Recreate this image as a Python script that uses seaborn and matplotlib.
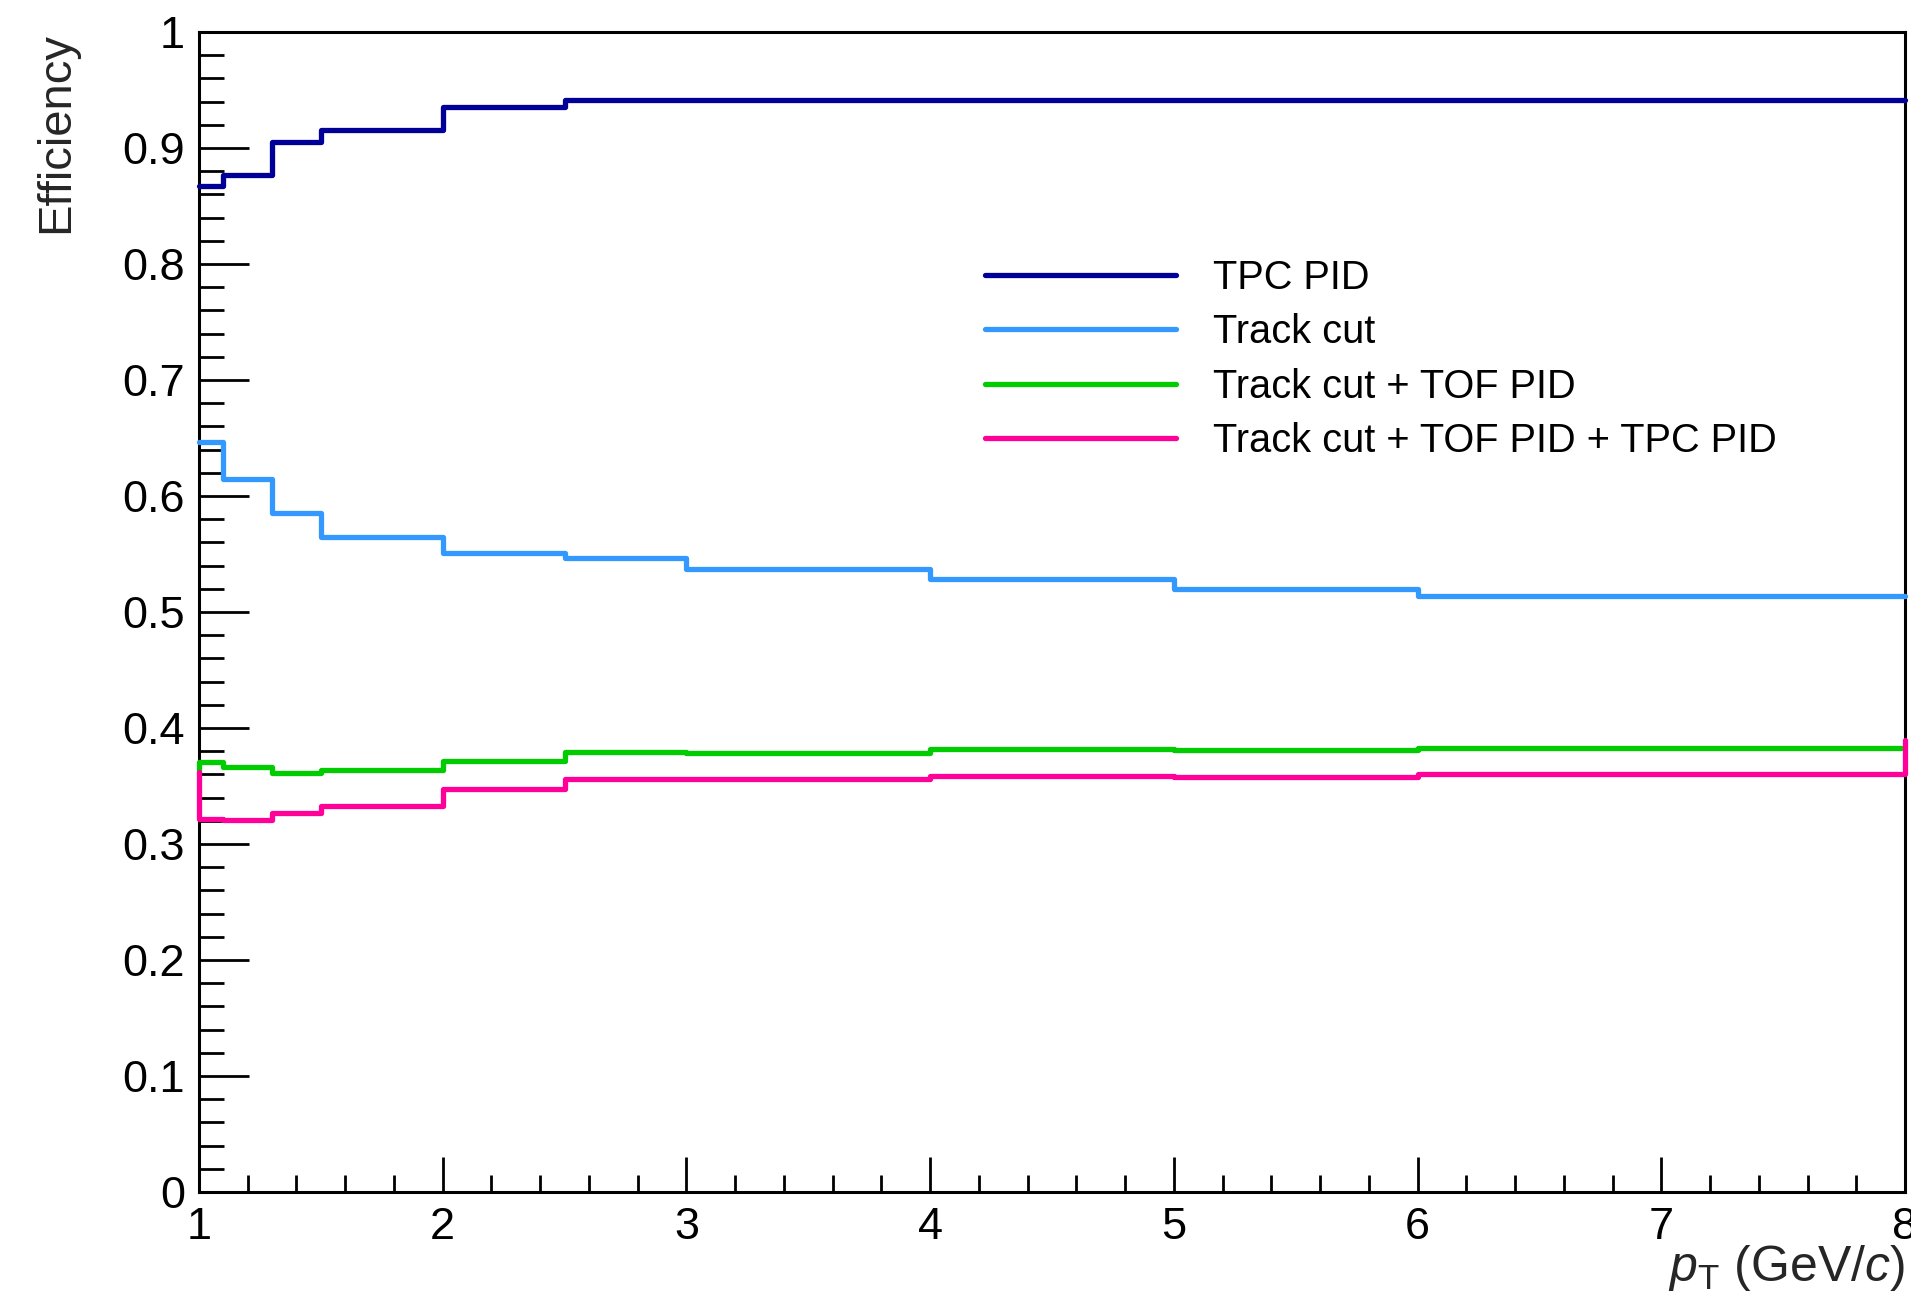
import matplotlib
matplotlib.use("Agg")
import matplotlib.pyplot as plt
import pandas as pd
import seaborn as sns
from matplotlib.ticker import MultipleLocator

# ---------------- data ----------------
pt_edges = [1.0, 1.1, 1.3, 1.5, 2.0, 2.5, 3.0, 4.0, 5.0, 6.0, 8.0]
series_names = ["TPC PID", "Track cut", "Track cut + TOF PID",
                "Track cut + TOF PID + TPC PID"]
eff_tpc_pid = [0.867, 0.877, 0.905, 0.9155, 0.935, 0.941, 0.941, 0.941, 0.941, 0.941]
eff_track_cut = [0.6466, 0.6147, 0.585, 0.5647, 0.5509, 0.5463, 0.5368, 0.5282, 0.5200, 0.5140]
eff_track_tof = [0.371, 0.366, 0.3615, 0.3638, 0.3718, 0.379, 0.3785, 0.3816, 0.3807, 0.3825]
eff_track_tof_tpc = [0.3215, 0.321, 0.327, 0.3328, 0.347, 0.3563, 0.3562, 0.3589, 0.358, 0.3603]
# outline end levels seen at the left / right frame edges (None = not visible)
left_edge_level = [None, None, 0.3623, 0.362]
right_edge_level = [None, None, None, 0.390]
series_colors = ["#000099", "#3399FF", "#00CC00", "#FF0099"]
y_ticklabels = ["0", "0.1", "0.2", "0.3", "0.4", "0.5", "0.6", "0.7", "0.8", "0.9", "1"]
x_ticklabels = ["1", "2", "3", "4", "5", "6", "7", "8"]

# ---------------- build step outline table ----------------
rows = []
for name, vals, le, re in zip(series_names,
                              [eff_tpc_pid, eff_track_cut, eff_track_tof, eff_track_tof_tpc],
                              left_edge_level, right_edge_level):
    if le is not None:
        rows.append((name, pt_edges[0], le))
    for x, v in zip(pt_edges[:-1], vals):
        rows.append((name, x, v))
    rows.append((name, pt_edges[-1], vals[-1]))
    if re is not None:
        rows.append((name, pt_edges[-1], re))
df = pd.DataFrame(rows, columns=["series", "pt", "eff"])

# ---------------- style ----------------
sns.set_style("ticks", {"axes.edgecolor": "black", "xtick.color": "black",
                        "ytick.color": "black", "axes.grid": False})
plt.rcParams["font.family"] = ["Liberation Sans", "DejaVu Sans"]
plt.rcParams["mathtext.fontset"] = "custom"
plt.rcParams["mathtext.rm"] = "Liberation Sans"
plt.rcParams["mathtext.it"] = "Liberation Sans:italic"
plt.rcParams["text.color"] = "black"

W, H = 1911, 1303
fig = plt.figure(figsize=(W / 100, H / 100), dpi=100)
ax_l, ax_r, ax_t, ax_b = 199, 1905, 32, 1192
ax = fig.add_axes([ax_l / W, 1 - ax_b / H, (ax_r - ax_l) / W, (ax_b - ax_t) / H])

sns.lineplot(data=df, x="pt", y="eff", hue="series", hue_order=series_names,
             palette=series_colors, estimator=None, sort=False,
             drawstyle="steps-post", linewidth=3.8, legend=False, ax=ax,
             zorder=3, clip_on=False)

ax.set_xlim(1, 8)
ax.set_ylim(0, 1)
ax.xaxis.set_minor_locator(MultipleLocator(0.2))
ax.yaxis.set_minor_locator(MultipleLocator(0.02))
ax.set_xticks(range(1, 9))
ax.set_xticklabels(x_ticklabels)
ax.set_yticks([i / 10 for i in range(11)])
ax.set_yticklabels(y_ticklabels)

for s in ax.spines.values():
    s.set_visible(True)
    s.set_linewidth(2.2)
    s.set_color("black")

ax.tick_params(axis="y", which="major", direction="in", length=36, width=2.0,
               labelsize=32.5, pad=10, right=False)
ax.tick_params(axis="y", which="minor", direction="in", length=18, width=2.0, right=False)
ax.tick_params(axis="x", which="major", direction="in", length=25, width=2.0,
               labelsize=32.5, pad=11, top=False)
ax.tick_params(axis="x", which="minor", direction="in", length=12.5, width=2.0, top=False)

ax.set_ylabel("Efficiency", fontsize=34, loc="top")
ax.yaxis.set_label_coords(-0.071, 1.0)
ax.set_xlabel(r"$p_{\mathrm{T}}$ (GeV/$c$)", fontsize=36, loc="right", labelpad=-4)

handles = ax.get_lines()[:4]
fig.legend(handles, series_names, loc="upper left",
           bbox_to_anchor=(985 / W, 1 - 259 / H), bbox_transform=fig.transFigure,
           frameon=False, fontsize=28.6, handlelength=4.8, handletextpad=0.95,
           labelspacing=0.41, borderpad=0, borderaxespad=0)

fig.savefig("out.png", dpi=100)
